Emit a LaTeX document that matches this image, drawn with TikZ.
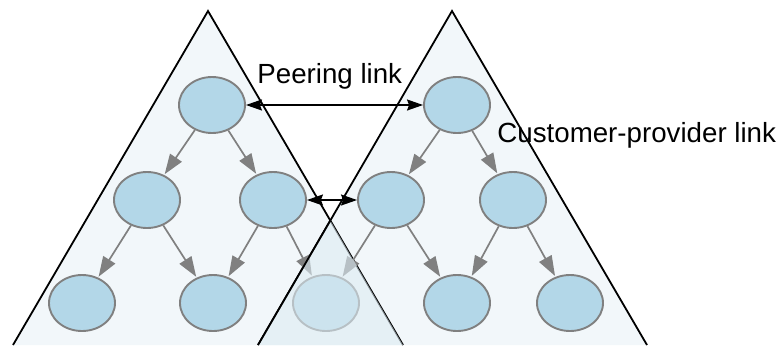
\documentclass[tikz,border=0pt]{standalone}
\usepackage{fontspec}
\setmainfont{Liberation Sans}
\usetikzlibrary{arrows.meta,shapes.geometric}
\definecolor{conefill}{HTML}{F2F7FA}
\definecolor{asblue}{HTML}{B3D7E8}
\definecolor{asborder}{HTML}{808080}
\definecolor{overlapblue}{HTML}{DDECF3}
\begin{document}
\begin{tikzpicture}[x=0.5pt,y=-0.5pt,
  as/.style={ellipse,draw=asborder,fill=asblue,line width=0.95pt,minimum width=33pt,minimum height=28pt,inner sep=0pt},
  cone/.style={draw=black,line width=0.9pt},
  cp/.style={draw=asborder,line width=0.85pt,-{Triangle[length=10pt,width=7pt]},shorten >=0.5pt},
  peer/.style={draw=black,line width=0.75pt,{Stealth[length=8pt,width=5.5pt,inset=1pt]}-{Stealth[length=8pt,width=5.5pt,inset=1pt]}},
  lbl/.style={inner sep=0pt,font=\fontsize{13.85}{16}\selectfont}]
\useasboundingbox (0,0) rectangle (781,345);
% the two customer cones
\coordinate (ltop) at (208,11);
\coordinate (lbl) at (13,345);
\coordinate (lbr) at (403,345);
\coordinate (rtop) at (452,11);
\coordinate (rbl) at (258,345);
\coordinate (rbr) at (647,345);
\fill[conefill] (ltop)--(lbl)--(lbr)--cycle;
\fill[conefill] (rtop)--(rbl)--(rbr)--cycle;
\draw[cone] (lbl)--(ltop)--(lbr);
\draw[cone] (rbl)--(rtop)--(rbr);

\node[as] (l1) at (212,105) {};
\node[as] (l2) at (147,200) {};
\node[as] (l3) at (273,200) {};
\node[as] (l4) at (82,303) {};
\node[as] (l5) at (213,303) {};
\node[as] (shared) at (326,303) {};
\node[as] (r1) at (457,105) {};
\node[as] (r2) at (391,200) {};
\node[as] (r3) at (513,200) {};
\node[as] (r4) at (457,303) {};
\node[as] (r5) at (570,303) {};

\draw[cp] (l1)--(l2);
\draw[cp] (l1)--(l3);
\draw[cp] (l2)--(l4);
\draw[cp] (l2)--(l5);
\draw[cp] (l3)--(l5);
\draw[cp] (l3)--(shared);
\draw[cp] (r1)--(r2);
\draw[cp] (r1)--(r3);
\draw[cp] (r2)--(shared);
\draw[cp] (r2)--(r4);
\draw[cp] (r3)--(r4);
\draw[cp] (r3)--(r5);

% overlap of the cones
\coordinate (cross) at (intersection of ltop--lbr and rtop--rbl);
\fill[overlapblue,fill opacity=0.6] (cross)--(rbl)--(lbr)--cycle;
\draw[cone] (cross)--(rbl);

\draw[peer] (l1)--(r1);
\draw[peer] (l3)--(r2);

\node[lbl,anchor=base west] (peerlbl) at (257,83) {Peering link};
\node[lbl,anchor=base west] (cplbl) at (497,142) {Customer-provider link};
\end{tikzpicture}
\end{document}
